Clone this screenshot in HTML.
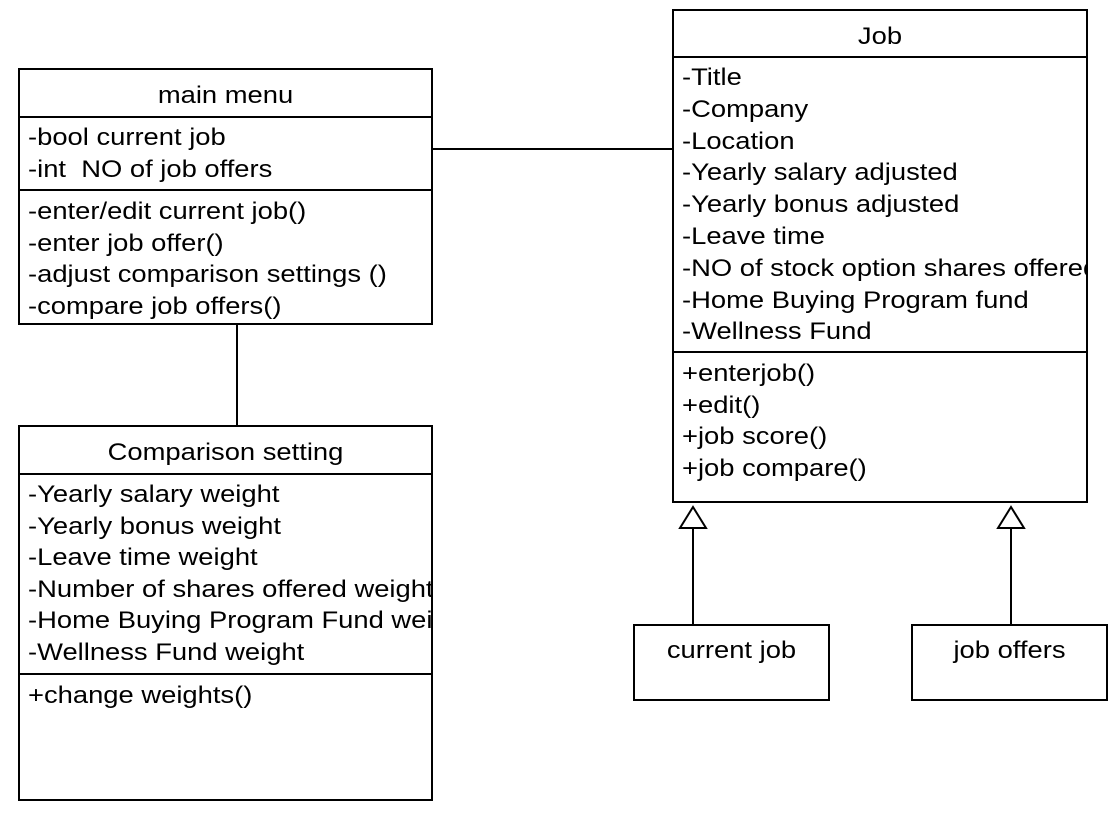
<!DOCTYPE html>
<html><head><style>
body{margin:0;width:1120px;height:818px;background:#fff;position:relative;font-family:"Liberation Sans",Arial,sans-serif;font-size:24px;color:#000}
.b{position:absolute;border:2px solid #000;box-sizing:border-box;overflow:hidden;background:#fff}
.h{position:absolute;left:0;right:0;text-align:center;white-space:nowrap;transform:scaleX(1.14);transform-origin:center}
.l{position:absolute;left:0;right:0;height:2px;background:#000}
.t{position:absolute;left:8px;white-space:nowrap;line-height:32px;transform:scaleX(1.14);transform-origin:left top}
</style></head><body>
<svg width="1120" height="818" style="position:absolute;left:0;top:0">
<g stroke="#000" stroke-width="2" fill="#fff">
<line x1="432" y1="149" x2="673" y2="149"/>
<line x1="237" y1="324" x2="237" y2="426"/>
<line x1="693" y1="528" x2="693" y2="625"/>
<line x1="1011" y1="528" x2="1011" y2="625"/>
<polygon points="693,507 680,528 706,528"/>
<polygon points="1011,507 998,528 1024,528"/>
</g></svg>

<div class="b" style="left:18px;top:68px;width:415px;height:257px">
<div class="h" style="top:12px">main menu</div>
<div class="l" style="top:46px"></div>
<div class="t" style="top:52px">-bool current job<br>-int&nbsp; NO of job offers</div>
<div class="l" style="top:119px"></div>
<div class="t" style="top:126px;line-height:31.5px">-enter/edit current job()<br>-enter job offer()<br>-adjust comparison settings ()<br>-compare job offers()</div>
</div>

<div class="b" style="left:18px;top:425px;width:415px;height:376px">
<div class="h" style="top:12px">Comparison setting</div>
<div class="l" style="top:46px"></div>
<div class="t" style="top:52px;line-height:31.6px">-Yearly salary weight<br>-Yearly bonus weight<br>-Leave time weight<br>-Number of shares offered weight<br>-Home Buying Program Fund weight<br>-Wellness Fund weight</div>
<div class="l" style="top:246px"></div>
<div class="t" style="top:253px">+change weights()</div>
</div>

<div class="b" style="left:672px;top:9px;width:416px;height:494px">
<div class="h" style="top:12px">Job</div>
<div class="l" style="top:45px"></div>
<div class="t" style="top:51px;line-height:31.8px">-Title<br>-Company<br>-Location<br>-Yearly salary adjusted<br>-Yearly bonus adjusted<br>-Leave time<br>-NO of stock option shares offered<br>-Home Buying Program fund<br>-Wellness Fund</div>
<div class="l" style="top:340px"></div>
<div class="t" style="top:347px;line-height:31.5px">+enterjob()<br>+edit()<br>+job score()<br>+job compare()</div>
</div>

<div class="b" style="left:633px;top:624px;width:197px;height:77px"><div class="h" style="top:11px">current job</div></div>
<div class="b" style="left:911px;top:624px;width:197px;height:77px"><div class="h" style="top:11px">job offers</div></div>
</body></html>
